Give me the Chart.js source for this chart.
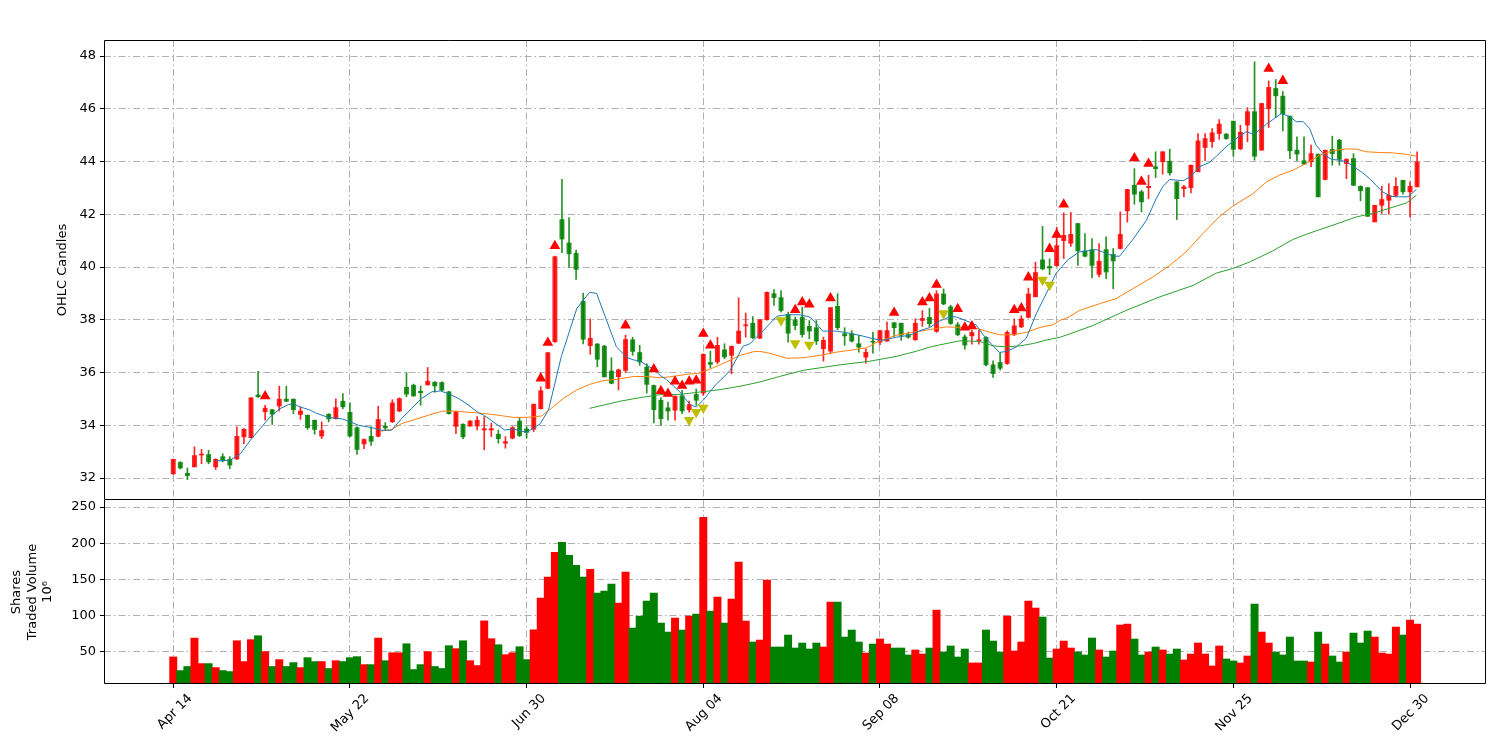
<!DOCTYPE html>
<html>
<head>
<meta charset="utf-8">
<script src="https://cdn.jsdelivr.net/npm/chart.js@4.4.0/dist/chart.umd.min.js"></script>
<style>
  body { margin: 0; background: #fff; }
  #wrap { position: relative; width: 1500px; height: 741px; }
  canvas { position: absolute; left: 0; }
  #priceChart { top: 0; width: 1500px; height: 500px; }
  #volChart { top: 500px; width: 1500px; height: 241px; }
</style>
</head>
<body>
<div id="wrap">
  <canvas id="priceChart" width="1500" height="500"></canvas>
  <canvas id="volChart" width="1500" height="241"></canvas>
</div>
<script>
// daily OHLC (index 0 = Apr 14)
const opens = [
  32.16,32.59,32.18,32.42,32.87,32.89,32.42,32.81,32.71,32.72,
  33.56,33.53,35.15,34.51,34.59,34.73,34.99,34.99,34.41,34.38,
  34.19,33.59,34.42,34.25,34.91,34.49,33.91,33.29,33.58,33.58,
  33.96,34.13,34.54,35.44,35.52,35.29,35.53,35.63,35.62,35.27,
  33.96,34.04,33.97,33.97,33.82,33.82,33.66,33.32,33.51,34.16,
  33.86,33.85,34.63,35.40,37.17,41.80,40.91,40.52,38.70,37.02,
  37.08,37.00,36.06,35.84,36.08,37.24,36.76,36.21,35.51,34.95,
  34.66,34.57,35.12,34.59,35.17,35.22,36.38,36.40,36.86,36.65,
  37.11,37.77,37.87,37.30,38.00,38.99,38.84,38.20,38.00,38.10,
  37.75,37.70,36.90,36.81,38.51,37.47,37.47,37.09,36.58,37.19,
  37.15,37.19,37.89,37.87,37.44,37.24,37.97,38.09,37.56,38.98,
  38.49,37.81,37.35,37.39,37.20,37.33,36.29,36.38,36.34,37.43,
  37.73,38.09,38.87,40.27,40.02,40.05,41.00,40.90,41.65,40.61,
  40.66,39.72,40.66,40.48,40.70,42.13,43.10,42.85,43.01,43.80,
  43.99,44.01,43.23,42.97,43.01,43.61,44.53,44.75,45.06,45.04,
  45.53,44.48,45.38,45.89,44.43,46.01,46.77,46.48,45.72,44.43,
  44.03,43.99,44.28,43.32,44.46,44.81,43.92,44.11,43.06,43.01,
  41.71,42.34,42.53,42.72,43.29,42.85,43.04
];
const highs = [
  32.71,32.62,32.38,33.18,33.08,33.05,32.73,32.92,32.81,33.94,
  33.87,35.05,36.04,34.76,34.60,35.48,35.48,35.00,34.70,34.39,
  34.20,34.13,34.44,35.00,35.20,34.85,33.94,33.49,33.94,34.72,
  34.10,34.97,35.04,36.00,35.56,35.49,36.19,35.66,35.65,35.29,
  34.53,34.05,34.18,34.33,34.33,34.08,33.82,33.57,33.95,34.30,
  33.95,34.80,35.46,36.77,40.41,43.32,41.87,40.64,39.00,38.03,
  37.10,37.03,36.56,36.13,37.42,37.34,37.03,36.33,35.52,35.05,
  34.88,35.12,35.32,34.92,35.37,36.71,36.81,37.34,37.09,37.01,
  38.83,38.25,38.12,38.00,39.06,39.14,39.11,38.29,38.10,38.48,
  37.97,37.97,37.34,38.46,38.99,37.70,37.59,37.41,36.90,37.53,
  37.59,37.91,37.89,37.87,37.53,38.04,38.35,38.43,39.10,39.17,
  38.55,37.90,37.43,37.61,37.61,37.36,36.44,36.76,37.58,38.03,
  38.15,39.20,40.18,41.54,40.31,41.51,42.05,42.07,41.66,41.27,
  41.08,40.89,41.14,40.70,42.09,42.95,43.73,42.91,43.48,44.37,
  44.37,44.47,43.23,43.10,43.86,45.06,45.06,45.25,45.59,45.06,
  45.53,45.38,46.04,47.78,46.20,47.06,47.11,46.65,45.72,44.94,
  44.94,44.62,44.28,44.43,44.96,44.84,44.11,44.30,43.08,43.01,
  42.34,43.06,43.16,43.39,43.29,43.23,44.37
];
const lows = [
  32.13,32.34,31.94,32.42,32.54,32.54,32.32,32.61,32.35,32.70,
  33.30,33.52,35.06,34.19,34.03,34.54,34.89,34.44,34.22,33.84,
  33.66,33.49,34.13,34.23,34.63,33.56,32.89,33.11,33.24,33.56,
  33.81,34.10,34.51,35.08,35.10,34.76,35.52,35.25,35.30,34.42,
  33.68,33.49,33.96,33.82,33.07,33.57,33.32,33.13,33.48,33.57,
  33.51,33.76,34.61,35.38,37.14,40.54,39.98,39.53,37.08,36.69,
  36.22,35.82,35.57,35.34,36.00,36.65,36.27,35.22,34.09,34.00,
  34.19,34.19,34.44,34.50,34.76,35.13,36.18,36.33,36.52,35.95,
  37.09,37.34,37.28,37.28,37.98,38.54,38.29,37.15,37.62,37.34,
  37.28,37.06,36.43,36.73,37.62,37.03,37.15,36.77,36.35,36.73,
  37.06,37.19,37.37,37.22,37.30,37.22,37.75,37.73,37.52,38.57,
  37.82,37.39,36.88,37.07,37.07,36.25,35.81,36.09,36.31,37.40,
  37.70,38.07,38.87,39.89,39.71,40.02,40.32,40.78,40.06,40.38,
  39.59,39.62,39.56,39.18,40.68,41.70,42.38,42.09,42.59,43.39,
  43.52,43.48,41.80,42.66,42.81,43.61,44.03,44.53,44.84,44.84,
  44.20,44.45,44.75,44.05,44.43,45.29,45.67,45.16,44.11,44.03,
  43.90,43.80,42.66,43.30,43.86,43.86,43.35,43.08,42.51,41.92,
  41.71,42.03,42.00,42.66,42.76,41.90,43.04
];
const closes = [
  32.71,32.38,32.09,32.85,32.90,32.61,32.71,32.65,32.49,33.58,
  33.85,35.04,35.08,34.65,34.42,34.99,34.91,34.59,34.54,33.91,
  33.84,33.80,34.24,34.67,34.70,33.59,33.08,33.46,33.39,34.22,
  33.90,34.85,35.01,35.18,35.11,35.23,35.67,35.49,35.33,34.44,
  34.51,33.56,34.16,34.19,33.87,33.87,33.49,33.38,33.91,33.61,
  33.73,34.80,35.31,36.75,40.39,41.06,40.50,39.91,37.26,37.30,
  36.50,35.84,35.59,36.10,37.25,36.80,36.40,35.55,34.59,34.25,
  34.54,35.10,34.54,34.78,34.95,36.69,36.31,37.03,36.59,36.99,
  37.57,37.81,37.32,38.00,39.04,38.84,38.35,37.49,37.78,37.44,
  37.57,37.19,37.22,38.46,37.70,37.39,37.19,36.96,36.77,37.15,
  37.59,37.59,37.70,37.41,37.34,37.87,38.05,37.85,38.98,38.60,
  37.86,37.43,37.04,37.52,37.23,36.29,35.96,36.16,37.52,37.77,
  38.03,38.98,39.79,39.93,39.96,40.81,41.20,41.24,40.61,40.41,
  40.06,40.22,39.81,40.23,41.24,42.94,42.76,42.47,43.06,43.73,
  44.37,43.57,42.59,43.04,43.86,44.78,44.87,45.09,45.42,44.87,
  44.46,45.11,45.89,44.20,46.20,46.81,46.49,45.80,44.41,44.28,
  43.90,44.30,42.66,44.43,44.30,44.08,44.08,43.10,42.89,41.92,
  42.34,42.56,42.72,43.06,42.85,43.06,43.99
];
// shares traded, millions
const volumes = [
  43.2,24.4,30.0,69.2,34.0,34.0,28.5,24.4,23.0,65.5,
  36.8,67.0,72.4,50.5,30.0,39.5,30.0,35.4,28.5,42.2,
  36.8,36.8,27.2,38.0,36.8,42.2,43.6,32.6,32.6,69.2,
  38.0,49.0,49.0,61.4,25.8,32.6,50.5,30.0,27.2,58.7,
  54.6,65.5,38.0,31.3,92.9,68.3,60.0,46.3,49.0,57.3,
  39.5,80.6,124.4,153.2,187.5,201.4,183.5,169.7,153.2,164.2,
  131.2,133.9,143.6,117.4,160.1,83.0,99.5,120.2,131.2,89.9,
  77.5,96.8,80.3,99.5,102.3,235.8,106.4,125.7,89.9,122.9,
  173.9,92.7,63.8,66.5,149.1,56.9,56.9,73.4,55.5,62.4,
  54.1,62.4,56.9,118.8,118.8,70.6,80.3,63.8,48.6,61.0,
  67.9,61.0,55.5,55.5,45.9,52.8,47.2,55.5,107.8,50.0,
  58.3,43.1,54.1,34.9,34.9,80.3,65.1,50.0,99.5,51.4,
  63.8,120.2,110.6,98.2,41.7,54.1,65.1,55.5,50.0,45.9,
  69.3,52.8,43.1,51.4,87.2,88.5,67.9,45.9,50.0,56.9,
  52.8,47.2,54.1,39.0,47.2,62.4,47.2,30.7,58.3,40.4,
  37.6,34.9,44.5,116.1,77.5,62.4,50.0,45.9,70.6,37.6,
  37.6,36.2,77.5,61.0,44.5,36.2,50.0,76.1,62.4,78.9,
  70.6,48.6,47.2,84.4,73.4,94.0,88.5
];

// moving averages: [day index, price]
const maShort = [
  [6,32.65],[8,32.67],[9.5,32.92],[10.9,33.43],[12.3,33.87],[13.7,34.32],[15.1,34.63],[16.3,34.78],
  [17,34.82],[17.9,34.70],[19.4,34.57],[20.1,34.47],[22,34.29],[23.8,34.25],[24.8,34.16],[26.2,34.00],
  [28.1,33.91],[29.5,33.81],[30.9,33.81],[32.3,34.25],[33.7,34.63],[35.1,35.01],[36.6,35.27],[37.8,35.30],
  [38.9,35.20],[40.4,35.01],[41.8,34.76],[43.2,34.47],[43.9,34.39],[46.9,33.82],[48.1,33.86],[50,33.73],
  [51.9,34.05],[53.1,34.58],[54.9,36.60],[57.1,38.43],[58.9,39.04],[59.9,39.00],[61.3,37.99],[62.7,36.98],
  [63.2,36.84],[64.1,36.58],[65.1,36.48],[66.1,36.43],[67,36.27],[67.9,36.14],[68.9,35.89],[69.8,35.73],
  [70.7,35.51],[71.7,35.26],[72.6,34.95],[73.3,34.76],[74,34.69],[75,34.95],[75.9,35.26],[76.9,35.58],
  [77.8,35.80],[78.8,36.08],[79.7,36.52],[80.6,36.99],[81.6,37.09],[82.5,37.34],[83.5,37.59],[84.4,37.85],
  [85.4,38.13],[86.8,38.19],[88.7,38.19],[90.1,38.10],[91,37.85],[91.9,37.57],[93.8,37.57],[95.7,37.49],
  [97.6,37.38],[99,37.28],[100.4,37.22],[102.3,37.34],[104.2,37.41],[105.6,37.58],[107,37.70],[108.5,37.96],
  [109.9,38.11],[110.8,38.11],[112.2,37.96],[113.6,37.81],[114.6,37.43],[115.8,37.07],[116.9,36.76],[117.9,36.80],
  [119.3,36.97],[120.7,37.30],[122.1,38.22],[123.5,38.98],[124.9,39.75],[126.6,40.28],[128.2,40.57],[130.6,40.66],
  [131.5,40.57],[133,40.41],[133.9,40.41],[135.8,41.05],[137.7,41.77],[139.1,42.60],[140,43.04],[141,43.32],
  [142.9,43.27],[144,43.44],[145.2,43.80],[146.6,43.96],[147.6,44.20],[149,44.56],[150.4,44.87],[151.8,45.13],
  [152.8,45.04],[153.7,45.19],[154.7,45.42],[155.8,45.63],[156.8,45.82],[158,45.70],[158.9,45.51],[159.9,45.51],
  [160.8,45.25],[161.7,44.62],[162.9,44.24],[163.9,44.08],[165,44.05],[166,43.99],[167.2,43.77],[168.3,43.57],
  [169.3,43.35],[170.2,43.10],[171.1,42.85],[172.3,42.68],[173.5,42.66],[174.7,42.66],[175.9,42.94]
];
const maMid = [
  [29.4,33.78],[30.9,33.84],[32.3,34.06],[34.2,34.22],[36.1,34.38],[38,34.53],[39.9,34.54],[41.8,34.49],
  [43.2,34.47],[45.7,34.39],[48.1,34.30],[50,34.30],[52.1,34.35],[53.8,34.71],[55.2,35.02],[57.1,35.34],
  [58.9,35.55],[60.8,35.69],[62.7,35.74],[65.1,35.85],[67,35.85],[68.9,35.80],[70.7,35.85],[72.6,35.93],
  [74.5,35.98],[76.4,36.18],[78.3,36.40],[80.2,36.65],[82.1,36.79],[83,36.80],[84.4,36.73],[85.8,36.62],
  [86.8,36.54],[89.1,36.56],[91.5,36.65],[93.8,36.77],[96.2,36.86],[98.1,36.94],[99.9,37.19],[102.3,37.41],
  [104.7,37.53],[105.6,37.56],[107.5,37.65],[109.4,37.73],[111.3,37.71],[113.2,37.71],[115.1,37.56],[116.9,37.43],
  [118.8,37.43],[120.7,37.52],[122.6,37.71],[124.5,37.81],[125.4,37.97],[126.8,38.11],[128.2,38.35],[131.1,38.61],
  [133.4,38.80],[135.8,39.18],[138.6,39.62],[141,40.06],[143.3,40.57],[145.7,41.27],[148,41.90],[149.9,42.30],
  [150.9,42.47],[152.8,42.78],[154.7,43.23],[156.5,43.48],[158.4,43.67],[160.3,43.92],[162.2,44.24],[164.1,44.41],
  [166,44.48],[167.4,44.47],[168.8,44.37],[170.7,44.34],[172.5,44.33],[174.5,44.27],[175.9,44.20]
];
const maLong = [
  [58.9,34.64],[63.2,34.91],[66.1,35.05],[68.9,35.16],[71.7,35.17],[74.5,35.26],[77.4,35.35],[80.2,35.48],
  [83,35.64],[85.8,35.85],[89.1,36.08],[93.8,36.27],[98.6,36.43],[102.3,36.61],[105.2,36.81],[107,36.96],
  [108.5,37.05],[111.3,37.20],[114.1,37.18],[116,37.01],[117.9,36.97],[119.8,37.01],[121.7,37.10],[123.5,37.23],
  [125.4,37.33],[126.8,37.46],[130.1,37.78],[134.8,38.35],[139.5,38.86],[144.3,39.30],[147.6,39.77],[149.9,39.94],
  [152.3,40.19],[155.5,40.60],[158.4,41.04],[160.3,41.24],[162.7,41.46],[165,41.67],[167.4,41.90],[169.7,42.03],
  [172,42.22],[174.5,42.43],[175.9,42.72]
];

// signal markers
const buyIdx = [13,52,53,54,64,68,69,70,71,72,73,74,75,76,88,89,90,93,102,106,107,108,111,112,113,119,120,121,124,125,126,136,137,138,155,157];
const buyVal = [35.10,35.78,37.13,40.80,37.79,36.13,35.30,35.20,35.66,35.50,35.66,35.70,37.47,37.03,38.37,38.67,38.58,38.82,38.27,38.67,38.82,39.33,38.41,37.71,37.76,38.37,38.44,39.61,40.69,41.23,42.37,44.13,43.24,43.92,47.52,47.06];
const sellIdx = [73,74,75,86,88,90,109,123,124];
const sellVal = [34.20,34.50,34.66,37.98,37.11,37.05,38.24,39.51,39.32];

const tickIdx = [0,25,50,75,100,125,150,175];
const tickLabels = ["Apr 14","May 22","Jun 30","Aug 04","Sep 08","Oct 21","Nov 25","Dec 30"];
const priceTicks = [32,34,36,38,40,42,44,46,48];
const volTicks = [50,100,150,200,250];

const X_MIN = -9.8, X_MAX = 185.75;
const UP = "#ff0000", DOWN = "#008000";

Chart.defaults.font.family = "'DejaVu Sans', sans-serif";
Chart.defaults.font.size = 13;
Chart.defaults.color = "#000";

const days = closes.map((_, i) => i);
const rising = days.map(i => closes[i] >= opens[i]);
const candleCol = days.map(i => rising[i] ? "rgba(255,0,0,0.85)" : "rgba(0,128,0,0.85)");
const volCol = days.map(i => rising[i] ? UP : DOWN);

const gridOpts = { color: "#b0b0b0", lineWidth: 1, tickColor: "#000", tickLength: 4, tickBorderDash: [] };
const dashBorder = { display: false, dash: [7, 3, 1.5, 3] };
const setTicks = vals => scale => { scale.ticks = vals.map(v => ({ value: v })); };
// fixed axis sizes so both plot areas line up with the picture
const fitY = s => { s.width = 104; s.paddingTop = 0; s.paddingBottom = 0; };
const fitX = h => s => { s.height = h; s.paddingLeft = 0; s.paddingRight = 0; s.paddingTop = 0; s.paddingBottom = 0; };

// black frame round each plot area (lower panel shares the upper one's bottom edge)
const frame = {
  id: "frame",
  afterDraw(chart, args, opts) {
    const { ctx, chartArea: a } = chart;
    const l = a.left + 0.5, r = a.right - 0.5, t = a.top + 0.5, b = a.bottom - 0.5;
    ctx.save();
    ctx.strokeStyle = "#000";
    ctx.lineWidth = 1;
    ctx.beginPath();
    if (opts.noTop) {
      ctx.moveTo(l, a.top); ctx.lineTo(l, b); ctx.lineTo(r, b); ctx.lineTo(r, a.top);
    } else {
      ctx.rect(l, t, r - l, b - t);
    }
    ctx.stroke();
    ctx.restore();
  }
};

const pts = arr => arr.map(p => ({ x: p[0], y: p[1] }));
const maLine = (arr, col) => ({
  type: "line", data: pts(arr), borderColor: col, borderWidth: 1,
  pointRadius: 0, tension: 0, order: 2
});
const marker = (ix, vals, col, rot) => ({
  type: "line", data: ix.map((x, k) => ({ x, y: vals[k] })), showLine: false,
  pointStyle: "triangle", pointRadius: 6.2, pointRotation: rot,
  pointBackgroundColor: col, pointBorderWidth: 0, order: 1
});

new Chart(document.getElementById("priceChart"), {
  type: "bar",
  data: {
    datasets: [
      {
        data: days.map(i => ({ x: i, y: [lows[i], highs[i]] })),
        backgroundColor: candleCol, barThickness: 1, grouped: false, order: 4
      },
      {
        data: days.map(i => ({ x: i, y: [Math.min(opens[i], closes[i]), Math.max(opens[i], closes[i])] })),
        backgroundColor: candleCol, barThickness: 4.3, minBarLength: 1, grouped: false, order: 3
      },
      maLine(maShort, "#1f77b4"),
      maLine(maMid, "#ff7f0e"),
      maLine(maLong, "#2ca02c"),
      marker(buyIdx, buyVal, "#ff0000", 0),
      marker(sellIdx, sellVal, "#bfbf00", 180)
    ]
  },
  options: {
    responsive: false,
    animation: false,
    devicePixelRatio: 1,
    events: [],
    layout: { padding: { top: 40, right: 14, left: 0, bottom: 0 }, autoPadding: false },
    plugins: { legend: { display: false }, tooltip: { enabled: false }, frame: { noTop: false } },
    scales: {
      x: {
        type: "linear", min: X_MIN, max: X_MAX, offset: false,
        grid: { ...gridOpts, offset: false, drawTicks: false },
        border: dashBorder,
        ticks: { display: false },
        afterBuildTicks: setTicks(tickIdx),
        afterFit: fitX(0)
      },
      y: {
        min: 31.166, max: 48.607,
        grid: gridOpts,
        border: dashBorder,
        ticks: { padding: 4 },
        afterBuildTicks: setTicks(priceTicks),
        afterFit: fitY,
        title: { display: true, text: "OHLC Candles", padding: { top: 55, bottom: 0 } }
      }
    }
  },
  plugins: [frame]
});

new Chart(document.getElementById("volChart"), {
  type: "bar",
  data: {
    datasets: [{
      data: days.map(i => ({ x: i, y: volumes[i] })),
      backgroundColor: volCol, barThickness: 7.3, grouped: false
    }]
  },
  options: {
    responsive: false,
    animation: false,
    devicePixelRatio: 1,
    events: [],
    layout: { padding: { top: 0, right: 14, left: 0, bottom: 0 }, autoPadding: false },
    plugins: { legend: { display: false }, tooltip: { enabled: false }, frame: { noTop: true } },
    scales: {
      x: {
        type: "linear", min: X_MIN, max: X_MAX, offset: false,
        grid: { ...gridOpts, offset: false },
        border: dashBorder,
        ticks: {
          minRotation: 45, maxRotation: 45, padding: 3, labelOffset: 17,
          callback: (v, i) => tickLabels[i]
        },
        afterBuildTicks: setTicks(tickIdx),
        afterFit: fitX(57)
      },
      y: {
        min: 5.86, max: 259.66,
        grid: gridOpts,
        border: dashBorder,
        ticks: { padding: 4 },
        afterBuildTicks: setTicks(volTicks),
        afterFit: fitY,
        title: {
          display: true,
          text: ["Shares", "Traded Volume", "10\u2076"],
          padding: { top: 9, bottom: 0 }
        }
      }
    }
  },
  plugins: [frame]
});
</script>
</body>
</html>
